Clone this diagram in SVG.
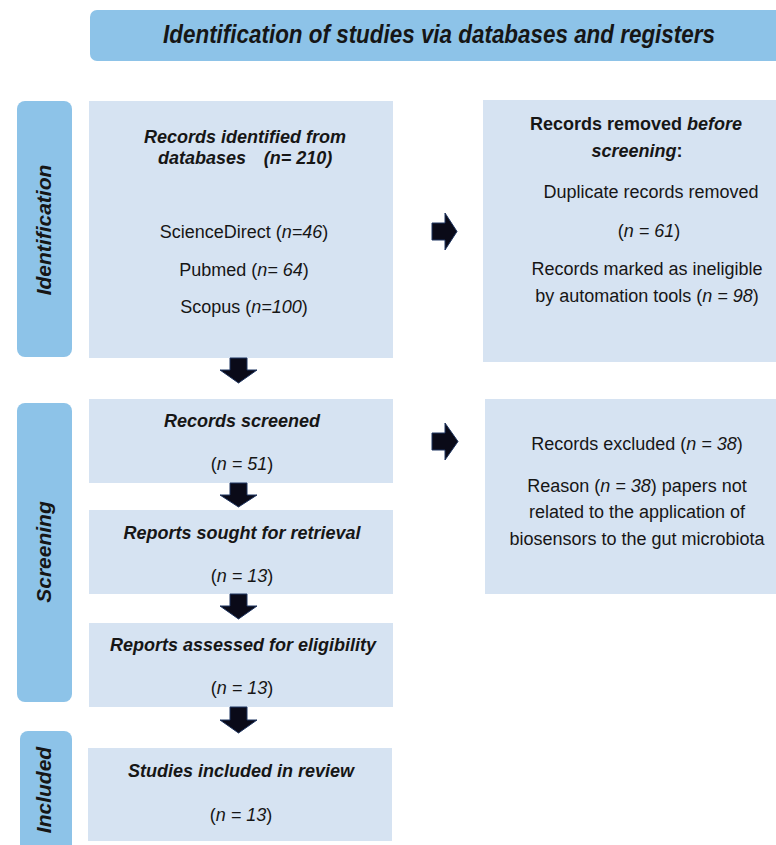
<svg xmlns="http://www.w3.org/2000/svg" width="776" height="845" viewBox="0 0 776 845">
<defs>
<style>
.hdr{fill:#8dc3e8;}
.box{fill:#d6e3f2;}
.t{font-family:"Liberation Sans",Arial,sans-serif;font-size:18px;fill:#161616;text-anchor:middle;}
.bi{font-weight:bold;font-style:italic;}
.b{font-weight:bold;}
.i{font-style:italic;}
.title{font-family:"Liberation Sans",Arial,sans-serif;font-size:25px;font-weight:bold;font-style:italic;fill:#161616;text-anchor:middle;}
.side{font-family:"Liberation Sans",Arial,sans-serif;font-size:21px;font-weight:bold;font-style:italic;fill:#161616;text-anchor:middle;}
.arr{fill:#0a0a18;stroke:#1f3560;stroke-width:1;stroke-linejoin:round;}
</style>
</defs>
<rect width="776" height="845" fill="#ffffff"/>

<g id="header">
<path class="hdr" d="M97,10 H776 V61 H97 A7,7 0 0 1 90,54 V17 A7,7 0 0 1 97,10 Z"/>
<text class="title" transform="translate(439,43) scale(0.73,1)" x="0" y="0" textLength="756" lengthAdjust="spacingAndGlyphs">Identification of studies via databases and registers</text>
</g>

<g id="side-identification">
<rect class="hdr" x="17" y="101" width="55" height="256" rx="8"/>
<text class="side" transform="translate(51,230) rotate(-90)">Identification</text>
</g>
<g id="side-screening">
<rect class="hdr" x="17" y="403" width="55" height="299" rx="8"/>
<text class="side" transform="translate(51,552) rotate(-90)">Screening</text>
</g>
<g id="side-included">
<path class="hdr" d="M28,731 H64 A8,8 0 0 1 72,739 V845 H20 V739 A8,8 0 0 1 28,731 Z"/>
<text class="side" transform="translate(51,790) rotate(-90)">Included</text>
</g>

<g id="records-identified">
<rect class="box" x="89" y="101" width="304" height="257"/>
<text class="t bi" x="245" y="143">Records identified from</text>
<text class="t bi" y="164"><tspan x="202">databases</tspan><tspan x="298">(n= 210)</tspan></text>
<text class="t" x="244" y="238">ScienceDirect (<tspan class="i">n=46</tspan>)</text>
<text class="t" x="244" y="276">Pubmed (<tspan class="i">n= 64</tspan>)</text>
<text class="t" x="244" y="313">Scopus (<tspan class="i">n=100</tspan>)</text>
</g>

<g id="records-removed">
<rect class="box" x="483" y="100" width="293" height="262"/>
<text class="t b" x="636" y="130">Records removed <tspan class="i">before</tspan></text>
<text class="t b" x="637" y="157"><tspan class="i">screening</tspan>:</text>
<text class="t" x="651" y="198">Duplicate records removed</text>
<text class="t" x="649" y="237">(<tspan class="i">n = 61</tspan>)</text>
<text class="t" x="647" y="275">Records marked as ineligible</text>
<text class="t" x="647" y="302">by automation tools (<tspan class="i">n = 98</tspan>)</text>
</g>

<g id="records-screened">
<rect class="box" x="89" y="399" width="304" height="84"/>
<text class="t bi" x="242" y="427">Records screened</text>
<text class="t" x="242" y="470">(<tspan class="i">n = 51</tspan>)</text>
</g>

<g id="records-excluded">
<rect class="box" x="485" y="399" width="291" height="195"/>
<text class="t" x="637" y="450">Records excluded (<tspan class="i">n = 38</tspan>)</text>
<text class="t" x="637" y="492">Reason (<tspan class="i">n = 38</tspan>) papers not</text>
<text class="t" x="637" y="518">related to the application of</text>
<text class="t" x="637" y="545">biosensors to the gut microbiota</text>
</g>

<g id="reports-sought">
<rect class="box" x="89" y="510" width="304" height="84"/>
<text class="t bi" x="242" y="539">Reports sought for retrieval</text>
<text class="t" x="242" y="582">(<tspan class="i">n = 13</tspan>)</text>
</g>

<g id="reports-assessed">
<rect class="box" x="89" y="623" width="304" height="84"/>
<text class="t bi" x="243" y="651">Reports assessed for eligibility</text>
<text class="t" x="242" y="694">(<tspan class="i">n = 13</tspan>)</text>
</g>

<g id="studies-included">
<rect class="box" x="88" y="748" width="304" height="93"/>
<text class="t bi" x="241" y="777">Studies included in review</text>
<text class="t" x="241" y="821">(<tspan class="i">n = 13</tspan>)</text>
</g>

<g id="connectors">
<polygon class="arr" points="230,358 247,358 247,370 257,370 238.5,383 220,370 230,370"/>
<polygon class="arr" points="230,483 247,483 247,495 257,495 238.5,507 220,495 230,495"/>
<polygon class="arr" points="230,594 247,594 247,606 257,606 238.5,619 220,606 230,606"/>
<polygon class="arr" points="230,707 247,707 247,720 257,720 238.5,733 220,720 230,720"/>
<polygon class="arr" points="432,223 445,223 445,213 457,231.5 445,250 445,240 432,240"/>
<polygon class="arr" points="432,433 445,433 445,423 458,441.5 445,460 445,450 432,450"/>
</g>
</svg>
